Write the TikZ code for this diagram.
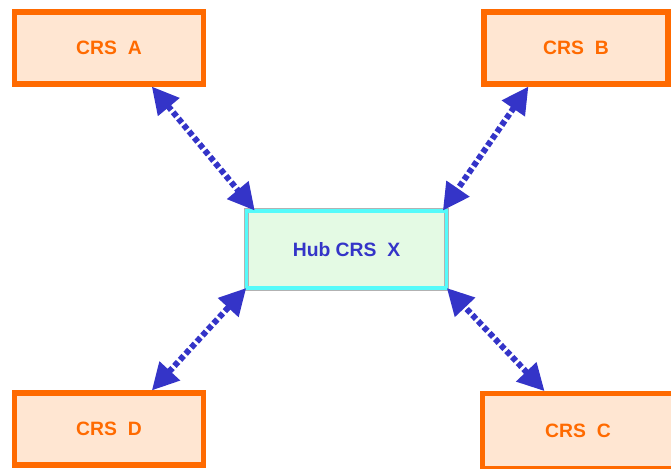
\documentclass[tikz,border=0pt]{standalone}
\usepackage{fontspec}
\setmainfont{Liberation Sans}
\usetikzlibrary{arrows.meta}
\definecolor{crsorange}{HTML}{FF6A00}
\definecolor{crsfill}{HTML}{FFE6D2}
\definecolor{hubfill}{HTML}{E4FAE4}
\definecolor{hubline}{HTML}{55FAFA}
\definecolor{linkblue}{HTML}{3434C8}
\tikzset{
 crsbox/.style={draw=crsorange,fill=crsfill,line width=3.8pt,minimum width=142pt,minimum height=54pt,inner sep=0pt,text=crsorange,font=\bfseries\fontsize{14.5}{16}\selectfont},
 hubbox/.style={draw=gray!60,double=hubline,double distance=2.8pt,line width=0.4pt,fill=hubfill,minimum width=150pt,minimum height=58pt,inner sep=0pt,text=linkblue,font=\bfseries\fontsize{14.5}{16}\selectfont},
 link/.style={draw=linkblue,line width=4.5pt,dash pattern=on 4pt off 2.2pt,{Triangle[length=20pt,width=20pt]}-{Triangle[length=20pt,width=20pt]}}
}
\begin{document}
\begin{tikzpicture}[x=0.75pt,y=-0.75pt]
 \useasboundingbox (0,0) rectangle (671,468);
 \node (crs A) at (109,48) [crsbox] {CRS\ \ A};
 \node (crs B) at (576,48) [crsbox,minimum width=138pt] {CRS\ \ B};
 \node (crs D) at (109,429) [crsbox] {CRS\ \ D};
 \node (crs C) at (578,431) [crsbox,minimum width=143pt,minimum height=56pt] {CRS\ \ C};
 \node (hub X) at (346.5,249.5) [hubbox] {Hub CRS\ \ X};
 \draw[link] (crs A.-42) -- (hub X.157);
 \draw[link] (crs B.219) -- (hub X.22);
 \draw[link] (crs D.42) -- (hub X.201);
 \draw[link] (crs C.130) -- (hub X.339);
\end{tikzpicture}
\end{document}
